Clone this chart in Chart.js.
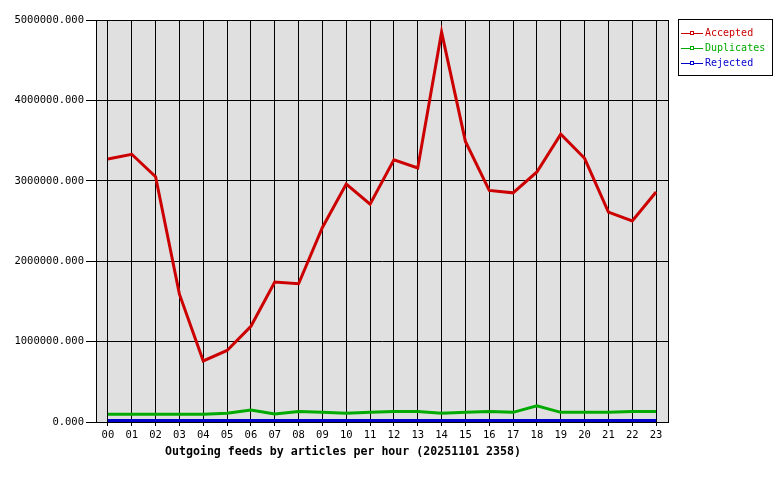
<!DOCTYPE html>
<html>
<head>
<meta charset="utf-8">
<script src="https://cdn.jsdelivr.net/npm/chart.js@4/dist/chart.umd.min.js"></script>
<style>
html,body{margin:0;padding:0;background:#fff;}
canvas{display:block;}
</style>
</head>
<body>
<canvas id="c" width="780" height="480"></canvas>
<script>
const hours = ["00","01","02","03","04","05","06","07","08","09","10","11","12","13","14","15","16","17","18","19","20","21","22","23"];
const accepted = [3270000,3330000,3050000,1590000,760000,890000,1190000,1740000,1720000,2420000,2960000,2710000,3260000,3160000,4850000,3490000,2880000,2850000,3110000,3580000,3280000,2610000,2500000,2860000];
const duplicates = [96000,96000,96000,96000,96000,108000,150000,100000,130000,120000,110000,120000,130000,130000,110000,120000,130000,120000,200000,120000,120000,120000,130000,130000];
const rejected = [20000,20000,20000,20000,20000,20000,20000,20000,20000,20000,20000,20000,20000,20000,20000,20000,20000,20000,20000,20000,20000,20000,20000,20000];
const seriesNames = ["Accepted","Duplicates","Rejected"];
const seriesColors = ["#cc0000","#00aa00","#0000cc"];
const yTicks = [0,1000000,2000000,3000000,4000000,5000000];
const chartTitle = "Outgoing feeds by articles per hour (20251101 2358)";

const MONO = "'DejaVu Sans Mono', 'Liberation Mono', monospace";

const bgPlugin = {
  id: 'bg',
  beforeDraw(chart) {
    const {ctx, chartArea: a} = chart;
    ctx.save();
    ctx.fillStyle = '#e0e0e0';
    ctx.fillRect(a.left, a.top, a.right - a.left, a.bottom - a.top);
    ctx.restore();
  },
  afterDraw(chart) {
    const {ctx, chartArea: a} = chart;
    ctx.save();
    ctx.strokeStyle = '#000';
    ctx.lineWidth = 1;
    ctx.strokeRect(Math.round(a.left) + 0.5, Math.round(a.top) + 0.5, Math.round(a.right - a.left), Math.round(a.bottom - a.top));
    // title
    ctx.fillStyle = '#000';
    ctx.font = "bold 11.6px " + MONO;
    ctx.textAlign = 'center';
    ctx.textBaseline = 'middle';
    ctx.fillText(chartTitle, 343, 452);
    // legend
    ctx.strokeRect(678.5, 19.5, 94, 56);
    ctx.font = "10px " + MONO;
    ctx.textAlign = 'left';
    chart.data.datasets.forEach((ds, i) => {
      const y = 33 + i * 15;
      ctx.strokeStyle = ds.borderColor;
      ctx.beginPath();
      ctx.moveTo(681, y + 0.5);
      ctx.lineTo(703, y + 0.5);
      ctx.stroke();
      ctx.fillStyle = '#fff';
      ctx.fillRect(690, y - 2, 4, 4);
      ctx.strokeRect(690.5, y - 1.5, 3, 3);
      ctx.fillStyle = ds.borderColor;
      ctx.fillText(ds.label, 705, y + 0.5);
    });
    ctx.restore();
  }
};

new Chart(document.getElementById('c'), {
  type: 'line',
  data: {
    labels: hours,
    datasets: [
      {label: seriesNames[0], data: accepted, borderColor: seriesColors[0]},
      {label: seriesNames[1], data: duplicates, borderColor: seriesColors[1]},
      {label: seriesNames[2], data: rejected, borderColor: seriesColors[2]}
    ].map(d => Object.assign(d, {borderWidth: 3, pointRadius: 0, tension: 0, fill: false}))
  },
  options: {
    responsive: false,
    animation: false,
    layout: {padding: {top: 20, right: 112, left: 0, bottom: 0}},
    plugins: {legend: {display: false}, tooltip: {enabled: false}, title: {display: false}},
    scales: {
      x: {
        offset: true,
        grid: {color: '#000', lineWidth: 1, tickLength: 4, offset: false, drawOnChartArea: true},
        border: {color: '#000'},
        ticks: {color: '#000', font: {family: MONO, size: 10.5}, padding: 3, maxRotation: 0, autoSkip: false},
        afterFit(s) { s.height = 58; }
      },
      y: {
        min: 0, max: 5000000,
        afterBuildTicks(s) { s.ticks = yTicks.map(v => ({value: v})); },
        grid: {color: '#000', lineWidth: 1, tickLength: 10},
        border: {color: '#000'},
        ticks: {color: '#000', font: {family: MONO, size: 10.5}, padding: 2, callback: v => Number(v).toFixed(3)},
        afterFit(s) { s.width = 96; }
      }
    }
  },
  plugins: [bgPlugin]
});
</script>
</body>
</html>
